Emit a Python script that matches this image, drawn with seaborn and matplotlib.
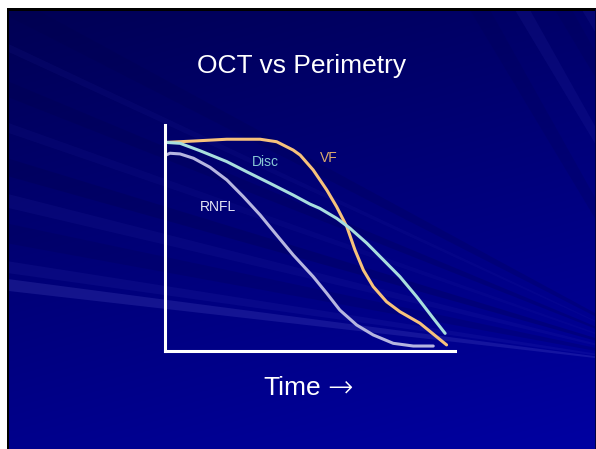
import numpy as np
import pandas as pd
import matplotlib
matplotlib.use("Agg")
import matplotlib.pyplot as plt
from matplotlib.patches import Polygon, Rectangle
import seaborn as sns

# ---- data (arbitrary units 0-100) ----
vf_x = [0.3, 9.8, 21.3, 32.8, 38.5, 44.2, 46.6, 51.1, 55.8, 59.2, 62.7, 65.5, 68.4, 71.8, 76.4, 81.0, 87.9, 97.1]
vf_y = [92.3, 92.9, 93.7, 93.7, 92.6, 88.9, 86.7, 80.1, 71.2, 63.8, 55.0, 44.7, 35.8, 28.5, 21.8, 17.4, 12.3, 2.7]
disc_x = [0.3, 5.2, 12.1, 21.3, 28.2, 36.2, 44.2, 50.0, 53.4, 59.2, 63.8, 69.6, 75.3, 81.0, 86.8, 92.5, 96.6]
disc_y = [92.3, 91.9, 88.6, 83.8, 79.3, 74.2, 69.0, 65.0, 63.1, 58.7, 54.3, 47.7, 40.3, 32.9, 24.0, 14.5, 7.8]
rnfl_x = [0.3, 1.7, 5.2, 9.8, 15.5, 21.3, 27.0, 32.8, 38.5, 44.2, 51.1, 55.8, 60.3, 66.1, 71.8, 78.7, 85.6, 92.5]
rnfl_y = [86.7, 87.5, 87.2, 85.3, 81.3, 75.7, 68.3, 60.2, 51.3, 42.5, 32.9, 25.5, 18.1, 11.5, 7.1, 3.4, 2.2, 2.2]

series_names = ["VF", "Disc", "RNFL"]
title_text = "OCT vs Perimetry"
xlabel_word = "Time"
xlabel_arrow = "\u2192"

df = pd.concat([
    pd.DataFrame({"x": vf_x, "y": vf_y, "series": "VF"}),
    pd.DataFrame({"x": disc_x, "y": disc_y, "series": "Disc"}),
    pd.DataFrame({"x": rnfl_x, "y": rnfl_y, "series": "RNFL"}),
])

sns.set_theme(style="white")
plt.rcParams["font.family"] = ["Liberation Sans", "DejaVu Sans"]

W, H = 596, 449
fig = plt.figure(figsize=(W / 100, H / 100), dpi=100, facecolor="white")

# ---- slide background ----
sx0, sy0 = 8, 10  # slide top-left in px
bg = fig.add_axes([sx0 / W, 0, (W - sx0) / W, (H - sy0) / H])
bg.set_xlim(sx0, W)
bg.set_ylim(H, sy0)
bg.axis("off")
yy, xx = np.mgrid[sy0:H:2, sx0:W:2]
yn = (yy - sy0) / (H - sy0)
xn = (xx - sx0) / (W - sx0)
b = 84 + 78 * (0.72 * yn + 0.28 * xn)
img = np.zeros(yy.shape + (3,))
img[..., 2] = np.clip(b, 0, 255) / 255
bg.imshow(img, extent=[sx0, W, H, sy0], aspect="auto", zorder=0)

# subtle streaks radiating from the right
ox, oy = 700, 370
streaks = [
    (318, 330, "#7070e0", 0.18),
    (300, 312, "#5050d0", 0.10),
    (262, 282, "#000050", 0.22),
    (232, 246, "#4040c0", 0.10),
    (196, 214, "#000048", 0.25),
    (160, 170, "#3030b0", 0.10),
    (118, 134, "#000048", 0.22),
    (80, 88, "#3030b0", 0.10),
    (30, 52, "#000048", 0.20),
]
for ya, yb, col, al in streaks:
    bg.add_patch(Polygon([(ox, oy), (0, ya - 40), (0, yb - 40)], closed=True,
                         facecolor=col, alpha=al, edgecolor="none", zorder=1))
# top-right diagonal streaks
for x1, x2, col, al in [(515, 530, "#3030b0", 0.15), (555, 572, "#000050", 0.2),
                        (470, 490, "#000050", 0.2), (582, 596, "#3030b0", 0.15)]:
    bg.add_patch(Polygon([(x1, sy0), (x2, sy0), (x2 + 140, 260), (x1 + 150, 260)], closed=True,
                         facecolor=col, alpha=al, edgecolor="none", zorder=1))

# black slide border
fig.add_artist(Rectangle((6.5 / W, 0), 2.5 / W, (H - 8.5) / H, transform=fig.transFigure,
                         facecolor="black", edgecolor="none"))
fig.add_artist(Rectangle((6.5 / W, (H - 11) / H), (W - 6.5) / W, 2.5 / H, transform=fig.transFigure,
                         facecolor="black", edgecolor="none"))
fig.add_artist(Rectangle(((W - 1.5) / W, 0), 1.5 / W, (H - 9) / H, transform=fig.transFigure,
                         facecolor="#000040", edgecolor="none"))

# ---- chart axes ----
L, R, T, B = 165, 455, 125, 351
ax = fig.add_axes([L / W, 1 - B / H, (R - L) / W, (B - T) / H])
ax.patch.set_alpha(0)
palette = {"VF": "#f7c27c", "Disc": "#a8dede", "RNFL": "#b6b6e0"}
sns.lineplot(data=df, x="x", y="y", hue="series", hue_order=series_names, palette=palette,
             sort=False, units="series", estimator=None, linewidth=2.2, legend=False, ax=ax,
             solid_joinstyle="round", solid_capstyle="round")
ax.set_xlim(0, 100)
ax.set_ylim(0, 100)
ax.set_xticks([])
ax.set_yticks([])
ax.set_xlabel("")
ax.set_ylabel("")
for s in ["top", "right"]:
    ax.spines[s].set_visible(False)
for s in ["left", "bottom"]:
    ax.spines[s].set_color("white")
    ax.spines[s].set_linewidth(2.2)

# series labels
ax.text(34.5, 83.5, "Disc", color="#88c8d4", fontsize=10, ha="center", va="center")
ax.text(56.5, 85.5, "VF", color="#dcac6c", fontsize=10, ha="center", va="center")
ax.text(18.3, 63.5, "RNFL", color="#e6e6f6", fontsize=10, ha="center", va="center")

# title and axis label
fig.text(302 / W, 1 - 66 / H, title_text, color="white", fontsize=19, ha="center", va="center")
fig.text(321 / W, 1 - 388 / H, xlabel_word, color="white", fontsize=19, ha="right", va="center")
fig.text(327 / W, 1 - 388 / H, xlabel_arrow, color="white", fontsize=22, ha="left", va="center",
         family=["DejaVu Sans"], fontweight="light")

fig.savefig("out.png", dpi=100, facecolor="white")
